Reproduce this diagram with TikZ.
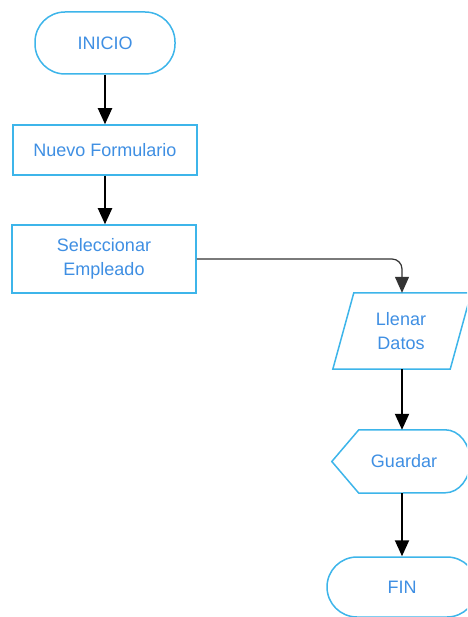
\documentclass[tikz,border=0pt]{standalone}
\usepackage{fontspec}
\setmainfont{Liberation Sans}
\usetikzlibrary{arrows.meta,calc}
\definecolor{bord}{HTML}{3DB5EA}
\definecolor{txtc}{HTML}{3F8FE3}
\tikzset{
  shp/.style={draw=bord, line width=1.5pt, fill=white},
  lbl/.style={text=txtc, font=\fontsize{18}{24}\selectfont, align=center, inner sep=0pt},
  term/.style={shp, lbl, rounded corners=30pt, minimum height=62pt},
  proc/.style={shp, lbl, minimum width=184pt},
  arr/.style={-{Triangle[length=16pt,width=14pt]}, line width=2pt, black},
  elb/.style={-{Triangle[length=16pt,width=14pt]}, line width=1.2pt, black!80, rounded corners=10pt},
}
\begin{document}
\begin{tikzpicture}[x=1pt,y=-1pt]
\useasboundingbox (0,0) rectangle (467,617);
\clip (0,0) rectangle (467,617);
\node[term, minimum width=140pt] (inicio) at (105,43) {INICIO};
\node[proc, minimum height=50pt] (nuevo) at (105,150) {Nuevo Formulario};
\node[proc, minimum height=68pt] (sel) at (104,259) {Seleccionar\\Empleado};
% Llenar Datos (parallelogram)
\node[lbl, minimum width=138pt, minimum height=76pt] (llenar) at (402,331) {};
\draw[shp] (llenar.south west) -- ($(llenar.north west)+(21,0)$) -- (llenar.north east) -- ($(llenar.south east)-(21,0)$) -- cycle;
\node[lbl] at (401,331) {Llenar\\Datos};
% Guardar (display)
\node[lbl, minimum width=140pt, minimum height=63pt] (guardar) at (402,461.5) {};
\draw[shp] (guardar.west) -- ($(guardar.north west)+(27,0)$) -- ($(guardar.north east)-(27,0)$)
  arc[start angle=90, end angle=-90, x radius=25pt, y radius=31.5pt] -- ($(guardar.south west)+(27,0)$) -- cycle;
\node[lbl] at (404,461.5) {Guardar};
\node[term, minimum width=150pt, minimum height=60pt] (fin) at (402,587) {FIN};
\draw[arr] (inicio) -- (inicio |- nuevo.north);
\draw[arr] (nuevo) -- (nuevo |- sel.north);
\draw[elb] (sel.east) -| (llenar.north);
\draw[arr] (llenar.south) -- (guardar.north);
\draw[arr] (guardar.south) -- (fin.north);
\end{tikzpicture}
\end{document}
